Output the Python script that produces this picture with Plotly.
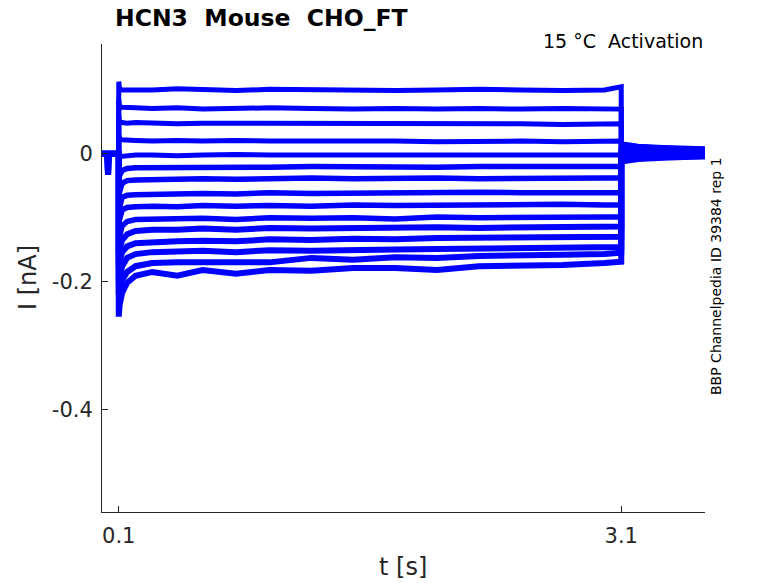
import plotly.graph_objects as go

# time grid of the voltage step (s); first sample carries the onset spike
t_step = [0.1, 0.105, 0.12, 0.15, 0.2, 0.3, 0.45, 0.6, 0.8, 1.0, 1.25, 1.5,
          1.75, 2.0, 2.25, 2.5, 2.75, 3.0, 3.1]
# holding period before the step
t_pre = [0.0, 0.033, 0.036, 0.039, 0.1]
i_pre = [0.0, 0.0, -0.033, 0.0, 0.0]
# tail after the step
t_tail = [3.1, 3.2, 3.35, 3.6]

# current during the step, nA, one list per sweep
sweep_01 = [0.113, 0.102, 0.100, 0.100, 0.101, 0.100, 0.102, 0.100, 0.099, 0.101, 0.100, 0.100, 0.099, 0.100, 0.101, 0.100, 0.099, 0.100, 0.105]
sweep_02 = [0.085, 0.074, 0.073, 0.072, 0.072, 0.071, 0.072, 0.070, 0.071, 0.072, 0.071, 0.070, 0.071, 0.070, 0.071, 0.070, 0.071, 0.070, 0.070]
sweep_03 = [0.060, 0.049, 0.049, 0.048, 0.049, 0.048, 0.047, 0.048, 0.048, 0.047, 0.048, 0.047, 0.047, 0.048, 0.047, 0.047, 0.046, 0.047, 0.047]
sweep_04 = [0.030, 0.023, 0.022, 0.021, 0.021, 0.020, 0.021, 0.020, 0.021, 0.020, 0.020, 0.021, 0.020, 0.019, 0.020, 0.020, 0.019, 0.020, 0.020]
sweep_05 = [-0.010, -0.006, -0.004, -0.003, -0.002, -0.002, -0.003, -0.002, -0.001, -0.002, -0.002, -0.001, -0.002, -0.002, -0.001, -0.002, -0.002, -0.002, -0.002]
sweep_06 = [-0.040, -0.034, -0.026, -0.023, -0.022, -0.022, -0.023, -0.021, -0.022, -0.021, -0.020, -0.021, -0.020, -0.021, -0.020, -0.020, -0.021, -0.020, -0.020]
sweep_07 = [-0.066, -0.060, -0.046, -0.042, -0.041, -0.040, -0.040, -0.039, -0.040, -0.039, -0.038, -0.039, -0.038, -0.038, -0.039, -0.038, -0.037, -0.038, -0.038]
sweep_08 = [-0.092, -0.085, -0.068, -0.065, -0.064, -0.063, -0.063, -0.062, -0.063, -0.061, -0.062, -0.061, -0.062, -0.061, -0.060, -0.061, -0.061, -0.061, -0.061]
sweep_09 = [-0.110, -0.103, -0.088, -0.084, -0.083, -0.082, -0.083, -0.081, -0.082, -0.081, -0.082, -0.080, -0.081, -0.080, -0.081, -0.080, -0.079, -0.080, -0.080]
sweep_10 = [-0.135, -0.129, -0.113, -0.106, -0.103, -0.102, -0.102, -0.101, -0.103, -0.100, -0.101, -0.100, -0.102, -0.099, -0.100, -0.099, -0.100, -0.099, -0.099]
sweep_11 = [-0.156, -0.150, -0.135, -0.126, -0.121, -0.119, -0.119, -0.117, -0.119, -0.116, -0.117, -0.116, -0.117, -0.115, -0.116, -0.115, -0.115, -0.114, -0.114]
sweep_12 = [-0.176, -0.169, -0.154, -0.145, -0.140, -0.138, -0.137, -0.136, -0.137, -0.134, -0.135, -0.133, -0.134, -0.132, -0.132, -0.131, -0.131, -0.130, -0.130]
sweep_13 = [-0.200, -0.194, -0.176, -0.163, -0.157, -0.154, -0.153, -0.152, -0.154, -0.151, -0.152, -0.150, -0.150, -0.149, -0.148, -0.148, -0.147, -0.146, -0.146]
sweep_14 = [-0.220, -0.213, -0.198, -0.185, -0.176, -0.171, -0.170, -0.170, -0.168, -0.170, -0.163, -0.166, -0.162, -0.163, -0.160, -0.160, -0.158, -0.157, -0.155]
sweep_15 = [-0.255, -0.237, -0.218, -0.202, -0.191, -0.185, -0.191, -0.182, -0.188, -0.182, -0.183, -0.179, -0.179, -0.182, -0.176, -0.176, -0.174, -0.171, -0.169]

# tail current, nA
tail_01 = [0.016, 0.012, 0.010, 0.008]
tail_02 = [0.014, 0.011, 0.009, 0.007]
tail_03 = [0.012, 0.009, 0.008, 0.006]
tail_04 = [0.010, 0.008, 0.006, 0.005]
tail_05 = [0.008, 0.006, 0.005, 0.004]
tail_06 = [0.006, 0.005, 0.004, 0.003]
tail_07 = [0.004, 0.003, 0.003, 0.002]
tail_08 = [0.002, 0.002, 0.002, 0.002]
tail_09 = [0.000, 0.000, 0.001, 0.001]
tail_10 = [-0.002, -0.001, 0.000, 0.000]
tail_11 = [-0.004, -0.003, -0.002, -0.001]
tail_12 = [-0.006, -0.004, -0.003, -0.002]
tail_13 = [-0.008, -0.006, -0.004, -0.003]
tail_14 = [-0.010, -0.007, -0.005, -0.004]
tail_15 = [-0.012, -0.008, -0.006, -0.004]

sweeps = [sweep_01, sweep_02, sweep_03, sweep_04, sweep_05, sweep_06, sweep_07, sweep_08,
          sweep_09, sweep_10, sweep_11, sweep_12, sweep_13, sweep_14, sweep_15]
tails = [tail_01, tail_02, tail_03, tail_04, tail_05, tail_06, tail_07, tail_08,
         tail_09, tail_10, tail_11, tail_12, tail_13, tail_14, tail_15]

axcol = '#262626'
fnt = 'DejaVu Sans'
off = 8  # the page body keeps an 8 px margin

fig = go.Figure()
for k in range(len(sweeps)):
    x = t_pre + t_step + t_tail
    y = i_pre + sweeps[k] + tails[k]
    w = 5 if k < 5 else (5.5 if k < 10 else 6)
    fig.add_trace(go.Scatter(x=x, y=y, mode='lines', showlegend=False, hoverinfo='skip',
                             line=dict(color='#0000ff', width=w)))

W, H = 778 - off, 583 - off
fig.update_layout(
    width=W, height=H,
    margin=dict(l=102 - off, r=778 - 705, t=44 - off, b=583 - 512),
    paper_bgcolor='white', plot_bgcolor='white',
    font=dict(family=fnt, color=axcol),
    title=dict(text='<b>HCN3\u00a0\u00a0Mouse\u00a0\u00a0CHO_FT</b>', x=(115 - off) / W, xanchor='left',
               y=1 - (18 - off) / H, yanchor='middle', font=dict(size=23.5, color='black', family=fnt)),
    xaxis=dict(range=[0, 3.6], tickvals=[0.1, 3.1], ticktext=['0.1', '3.1'],
               ticks='inside', ticklen=6, tickcolor=axcol, showline=True, linecolor=axcol,
               linewidth=1, showgrid=False, zeroline=False, ticklabelstandoff=5,
               tickfont=dict(size=21, color=axcol)),
    yaxis=dict(range=[-0.561, 0.172], tickvals=[0, -0.2, -0.4], ticktext=['0', '-0.2', '-0.4'],
               ticks='inside', ticklen=6, tickcolor=axcol, showline=True, linecolor=axcol,
               linewidth=1, showgrid=False, zeroline=False, ticklabelstandoff=4,
               tickfont=dict(size=21, color=axcol)),
    annotations=[
        dict(text='t [s]', xref='paper', yref='paper', x=(403 - 102) / 603, y=-(567 - 512) / 468,
             xanchor='center', yanchor='middle', showarrow=False, font=dict(size=24, color=axcol)),
        dict(text='I [nA]', xref='paper', yref='paper', x=-(102 - 28) / 603, y=(512 - 278) / 468,
             xanchor='center', yanchor='middle', textangle=-90, showarrow=False,
             font=dict(size=24, color=axcol)),
        dict(text='15 \u00b0C\u00a0\u00a0Activation', xref='paper', yref='paper', x=1.0,
             y=(512 - 41) / 468, xanchor='right', yanchor='middle', showarrow=False,
             font=dict(size=19, color='black')),
        dict(text='BBP Channelpedia ID 39384 rep 1', xref='paper', yref='paper',
             x=(716 - 102) / 603, y=(512 - 276) / 468, xanchor='center', yanchor='middle',
             textangle=-90, showarrow=False, font=dict(size=14, color='black')),
    ],
)

fig.write_html('out.html')
